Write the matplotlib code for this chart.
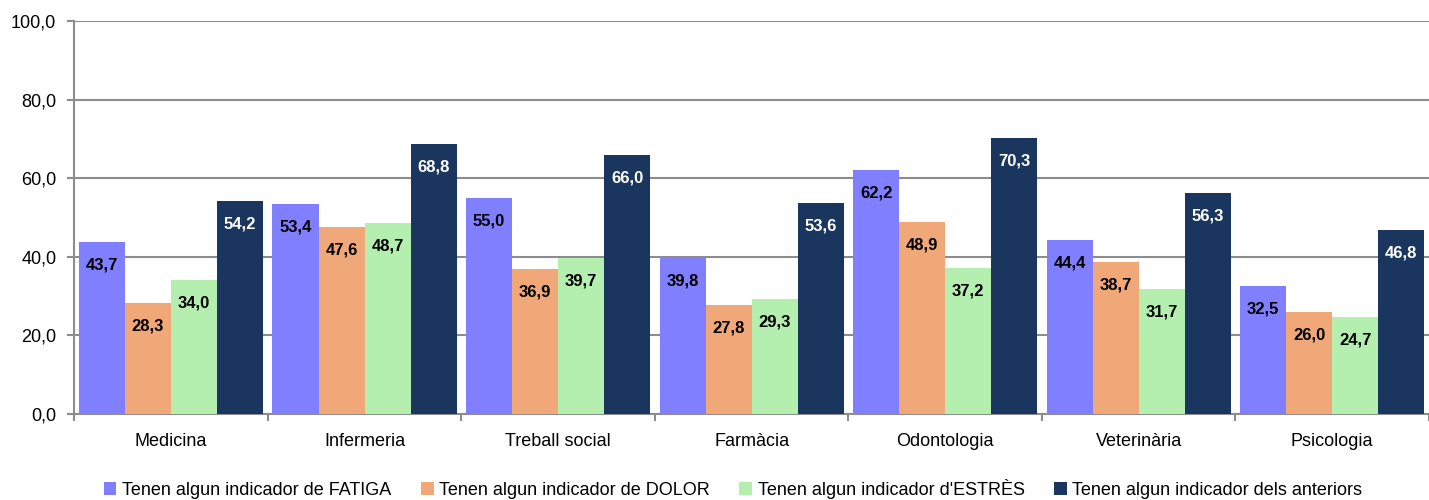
import matplotlib
matplotlib.use("Agg")
import matplotlib.pyplot as plt
import numpy as np

# Dades
categories = ["Medicina", "Infermeria", "Treball social", "Farmàcia",
              "Odontologia", "Veterinària", "Psicologia"]
series_names = [
    "Tenen algun indicador de FATIGA",
    "Tenen algun indicador de DOLOR",
    "Tenen algun indicador d'ESTRÈS",
    "Tenen algun indicador dels anteriors",
]
fatiga = [43.7, 53.4, 55.0, 39.8, 62.2, 44.4, 32.5]
dolor = [28.3, 47.6, 36.9, 27.8, 48.9, 38.7, 26.0]
estres = [34.0, 48.7, 39.7, 29.3, 37.2, 31.7, 24.7]
anteriors = [54.2, 68.8, 66.0, 53.6, 70.3, 56.3, 46.8]
y_ticks = [0, 20, 40, 60, 80, 100]

colors = ["#7F7FFF", "#F0A878", "#B5EFB0", "#1A365E"]
label_colors = ["black", "black", "black", "white"]

plt.rcParams["font.family"] = ["Liberation Sans", "DejaVu Sans"]

fig = plt.figure(figsize=(14.29, 5.0), dpi=100)
ax = fig.add_axes([0.052, 0.172, 0.948, 0.786])

x = np.arange(len(categories))
w = 0.238
all_series = [fatiga, dolor, estres, anteriors]

for i, (vals, name) in enumerate(zip(all_series, series_names)):
    pos = x + (i - 1.5) * w
    bars = ax.bar(pos, vals, width=w, color=colors[i], label=name, zorder=3)
    for b, v in zip(bars, vals):
        ax.annotate(
            f"{v:.1f}".replace(".", ","),
            (b.get_x() + b.get_width() / 2, v),
            xytext=(0, -23), textcoords="offset pixels",
            ha="center", va="center", fontsize=12, fontweight="bold",
            color=label_colors[i], zorder=4,
        )

ax.set_xlim(-0.5, len(categories) - 0.5)
ax.set_ylim(0, 100)
ax.set_yticks(y_ticks)
ax.set_yticklabels([f"{t:.1f}".replace(".", ",") for t in y_ticks], fontsize=13)
ax.yaxis.grid(True, color="#8C8C8C", linewidth=1.5, zorder=0)

# Ticks a les fronteres entre categories
ax.set_xticks(np.arange(-0.5, len(categories), 1.0))
ax.set_xticklabels([])
ax.set_xticks(x, minor=True)
ax.set_xticklabels(categories, minor=True, fontsize=13)
ax.tick_params(axis="x", which="minor", length=0, pad=14)
ax.tick_params(axis="x", which="major", length=5, color="#8C8C8C", width=1.5)
ax.tick_params(axis="y", length=5, color="#8C8C8C", width=1.5, pad=8)

for s in ["top", "right"]:
    ax.spines[s].set_visible(False)
for s in ["left", "bottom"]:
    ax.spines[s].set_color("#8C8C8C")
    ax.spines[s].set_linewidth(1.5)

leg = fig.legend(
    loc="lower center", bbox_to_anchor=(0.513, -0.03), ncol=4, frameon=False,
    fontsize=13, handlelength=0.7, handleheight=0.7, handletextpad=0.3,
    columnspacing=1.65,
)

fig.savefig("out.png", dpi=100)
